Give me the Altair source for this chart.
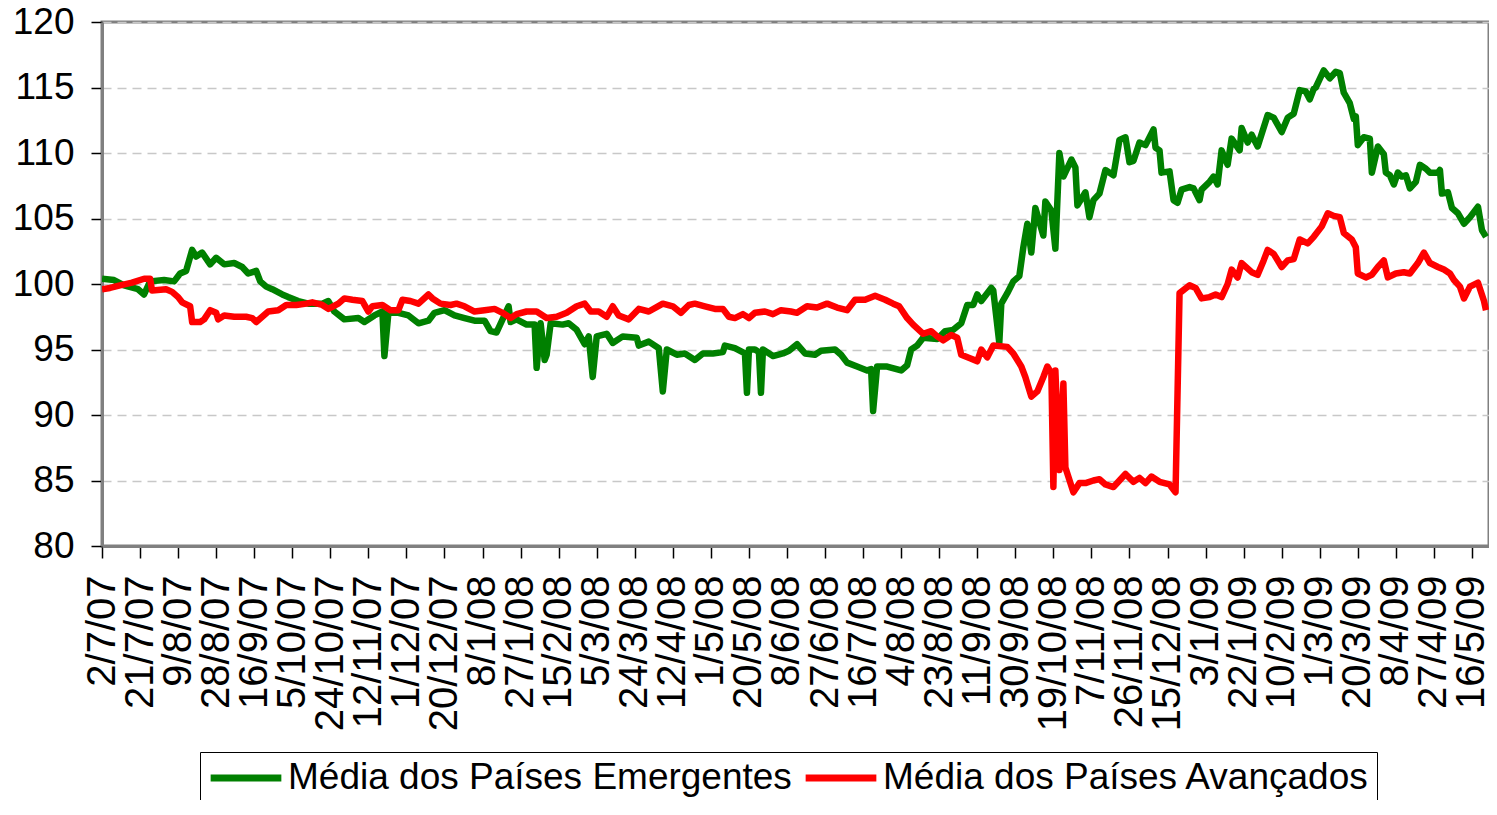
import altair as alt
import pandas as pd

FONT = "Liberation Sans, Arial, sans-serif"
EMERG = "Média dos Países Emergentes"
AVANC = "Média dos Países Avançados"

# x-axis tick labels (every 19 days)
x_ticks = ["2/7/07", "21/7/07", "9/8/07", "28/8/07", "16/9/07", "5/10/07", "24/10/07",
           "12/11/07", "1/12/07", "20/12/07", "8/1/08", "27/1/08", "15/2/08", "5/3/08",
           "24/3/08", "12/4/08", "1/5/08", "20/5/08", "8/6/08", "27/6/08", "16/7/08",
           "4/8/08", "23/8/08", "11/9/08", "30/9/08", "19/10/08", "7/11/08", "26/11/08",
           "15/12/08", "3/1/09", "22/1/09", "10/2/09", "1/3/09", "20/3/09", "8/4/09",
           "27/4/09", "16/5/09"]
y_ticks = [80, 85, 90, 95, 100, 105, 110, 115, 120]

# Emerging markets average
emerg_dates = [
    "2/7/07", "8/7/07", "13/7/07", "20/7/07", "23/7/07", "26/7/07",
    "2/8/07", "7/8/07", "10/8/07", "13/8/07", "16/8/07", "18/8/07", "21/8/07", "25/8/07", "28/8/07",
    "1/9/07", "6/9/07", "10/9/07", "13/9/07", "17/9/07", "19/9/07", "22/9/07", "25/9/07", "30/9/07",
    "3/10/07", "8/10/07", "13/10/07", "20/10/07", "23/10/07", "26/10/07", "31/10/07",
    "7/11/07", "10/11/07", "15/11/07", "19/11/07", "20/11/07", "22/11/07", "27/11/07",
    "2/12/07", "7/12/07", "12/12/07", "15/12/07", "20/12/07", "25/12/07", "30/12/07",
    "4/1/08", "9/1/08", "12/1/08", "15/1/08", "21/1/08", "22/1/08", "25/1/08", "30/1/08",
    "3/2/08", "4/2/08", "6/2/08", "8/2/08", "9/2/08", "11/2/08", "17/2/08", "20/2/08", "24/2/08", "28/2/08",
    "1/3/08", "3/3/08", "5/3/08", "10/3/08", "13/3/08", "18/3/08", "25/3/08", "26/3/08", "31/3/08",
    "5/4/08", "7/4/08", "9/4/08", "14/4/08", "18/4/08", "23/4/08", "27/4/08",
    "2/5/08", "7/5/08", "8/5/08", "13/5/08", "18/5/08", "19/5/08", "20/5/08", "23/5/08", "25/5/08", "26/5/08", "27/5/08",
    "1/6/08", "6/6/08", "9/6/08", "13/6/08", "17/6/08", "22/6/08", "25/6/08",
    "2/7/08", "5/7/08", "8/7/08", "13/7/08", "18/7/08", "20/7/08", "21/7/08", "23/7/08", "28/7/08",
    "4/8/08", "7/8/08", "9/8/08", "12/8/08", "15/8/08", "22/8/08", "26/8/08", "30/8/08",
    "3/9/08", "6/9/08", "9/9/08", "11/9/08", "13/9/08", "18/9/08", "19/9/08", "22/9/08", "23/9/08", "26/9/08", "29/9/08",
    "2/10/08", "4/10/08", "6/10/08", "8/10/08", "10/10/08", "14/10/08", "15/10/08", "18/10/08", "20/10/08", "22/10/08", "24/10/08", "28/10/08", "30/10/08", "31/10/08",
    "4/11/08", "6/11/08", "8/11/08", "11/11/08", "14/11/08", "18/11/08", "21/11/08", "24/11/08", "26/11/08", "28/11/08",
    "1/12/08", "4/12/08", "8/12/08", "9/12/08", "11/12/08", "12/12/08", "16/12/08", "18/12/08", "20/12/08", "22/12/08", "26/12/08", "28/12/08", "31/12/08",
    "1/1/09", "5/1/09", "7/1/09", "9/1/09", "11/1/09", "14/1/09", "16/1/09", "20/1/09", "21/1/09", "24/1/09", "26/1/09", "29/1/09",
    "3/2/09", "6/2/09", "10/2/09", "13/2/09", "16/2/09", "19/2/09", "22/2/09", "24/2/09", "26/2/09", "27/2/09",
    "3/3/09", "6/3/09", "9/3/09", "11/3/09", "13/3/09", "16/3/09", "18/3/09", "19/3/09", "20/3/09", "23/3/09", "26/3/09", "27/3/09", "30/3/09",
    "2/4/09", "3/4/09", "5/4/09", "7/4/09", "9/4/09", "11/4/09", "13/4/09", "15/4/09", "18/4/09", "20/4/09", "23/4/09", "25/4/09", "29/4/09", "30/4/09",
    "1/5/09", "4/5/09", "6/5/09", "9/5/09", "12/5/09", "15/5/09", "19/5/09", "21/5/09", "23/5/09",
]
emerg_values = [
    100.4, 100.3, 99.9, 99.6, 99.2, 100.2,
    100.3, 100.2, 100.8, 101.0, 102.6, 102.1, 102.4, 101.5, 102.0,
    101.5, 101.6, 101.3, 100.8, 101.0, 100.2, 99.8, 99.6, 99.2,
    99.0, 98.7, 98.5, 98.5, 98.7, 97.9, 97.3,
    97.4, 97.1, 97.6, 97.9, 94.5, 97.8, 97.8,
    97.6, 97.0, 97.2, 97.8, 98.0, 97.6, 97.4,
    97.2, 97.2, 96.4, 96.3, 98.3, 97.1, 97.3, 96.9,
    96.9, 93.6, 97.0, 94.2, 94.6, 97.0, 96.9, 97.0, 96.5, 95.4,
    96.0, 92.9, 96.0, 96.2, 95.5, 96.0, 95.9, 95.3, 95.6,
    95.1, 91.8, 95.0, 94.6, 94.7, 94.2, 94.7,
    94.7, 94.8, 95.3, 95.1, 94.7, 91.7, 95.0, 95.0, 94.8, 91.7, 95.0,
    94.5, 94.7, 94.9, 95.4, 94.7, 94.6, 94.9,
    95.0, 94.6, 94.0, 93.7, 93.4, 93.5, 90.3, 93.7, 93.7,
    93.4, 93.8, 95.0, 95.3, 95.9, 95.8, 96.4, 96.5,
    97.0, 98.4, 98.4, 99.2, 98.7, 99.7, 99.5, 95.5, 98.5, 99.3, 100.2,
    100.6, 102.8, 104.6, 102.4, 105.8, 103.7, 106.3, 105.6, 102.7, 110.0, 108.2, 109.5, 108.9, 106.0,
    107.0, 105.1, 106.4, 106.9, 108.7, 108.3, 111.0, 111.2, 109.3, 109.4,
    110.8, 110.6, 111.8, 110.4, 110.2, 108.5, 108.6, 106.4, 106.2, 107.2, 107.4, 107.3, 106.4,
    107.2, 107.8, 108.2, 107.6, 110.2, 109.1, 111.1, 110.2, 111.9, 110.8, 111.4, 110.5,
    112.9, 112.7, 111.6, 112.7, 113.0, 114.8, 114.7, 114.1, 114.9, 115.0,
    116.3, 115.7, 116.2, 116.1, 114.6, 113.8, 112.6, 112.8, 110.6, 111.2, 111.1, 108.5, 110.5,
    109.9, 108.5, 108.3, 107.6, 108.5, 108.2, 108.3, 107.3, 107.8, 109.1, 108.8, 108.5, 108.5, 108.7,
    106.9, 107.0, 105.8, 105.4, 104.6, 105.1, 105.9, 104.1, 103.6,
]

# Advanced markets average
avanc_dates = [
    "2/7/07", "6/7/07", "11/7/07", "17/7/07", "23/7/07", "26/7/07", "27/7/07",
    "3/8/07", "6/8/07", "9/8/07", "11/8/07", "15/8/07", "16/8/07", "20/8/07", "22/8/07", "25/8/07", "28/8/07", "29/8/07",
    "1/9/07", "6/9/07", "12/9/07", "15/9/07", "17/9/07", "20/9/07", "23/9/07", "28/9/07",
    "2/10/07", "7/10/07", "12/10/07", "15/10/07", "20/10/07", "23/10/07", "28/10/07", "31/10/07",
    "4/11/07", "9/11/07", "12/11/07", "14/11/07", "19/11/07", "23/11/07", "27/11/07", "29/11/07",
    "3/12/07", "7/12/07", "12/12/07", "14/12/07", "18/12/07", "23/12/07", "26/12/07", "30/12/07",
    "4/1/08", "9/1/08", "14/1/08", "18/1/08", "22/1/08", "25/1/08", "30/1/08",
    "4/2/08", "9/2/08", "14/2/08", "19/2/08", "24/2/08", "28/2/08",
    "2/3/08", "6/3/08", "10/3/08", "13/3/08", "16/3/08", "21/3/08", "26/3/08", "31/3/08",
    "7/4/08", "12/4/08", "16/4/08", "20/4/08", "23/4/08", "28/4/08",
    "3/5/08", "7/5/08", "10/5/08", "13/5/08", "17/5/08", "20/5/08", "23/5/08", "28/5/08",
    "1/6/08", "5/6/08", "10/6/08", "13/6/08", "18/6/08", "23/6/08", "28/6/08",
    "3/7/08", "8/7/08", "12/7/08", "17/7/08", "22/7/08", "27/7/08", "31/7/08",
    "3/8/08", "7/8/08", "10/8/08", "15/8/08", "19/8/08", "22/8/08", "25/8/08", "29/8/08",
    "1/9/08", "3/9/08", "8/9/08", "11/9/08", "13/9/08", "16/9/08", "19/9/08", "26/9/08", "29/9/08",
    "3/10/08", "5/10/08", "8/10/08", "11/10/08", "14/10/08", "16/10/08", "18/10/08", "19/10/08", "20/10/08", "22/10/08", "24/10/08", "25/10/08", "29/10/08",
    "1/11/08", "4/11/08", "8/11/08", "11/11/08", "14/11/08", "18/11/08", "21/11/08", "24/11/08", "28/11/08",
    "1/12/08", "4/12/08", "7/12/08", "11/12/08", "16/12/08", "19/12/08", "21/12/08", "26/12/08", "29/12/08",
    "1/1/09", "5/1/09", "8/1/09", "11/1/09", "14/1/09", "16/1/09", "19/1/09", "21/1/09", "26/1/09", "29/1/09",
    "1/2/09", "3/2/09", "6/2/09", "10/2/09", "13/2/09", "16/2/09", "19/2/09", "23/2/09", "26/2/09",
    "2/3/09", "5/3/09", "8/3/09", "11/3/09", "13/3/09", "17/3/09", "19/3/09", "20/3/09", "24/3/09", "27/3/09", "30/3/09",
    "2/4/09", "4/4/09", "8/4/09", "12/4/09", "15/4/09", "19/4/09", "22/4/09", "25/4/09", "29/4/09",
    "2/5/09", "5/5/09", "7/5/09", "10/5/09", "12/5/09", "15/5/09", "19/5/09", "22/5/09", "23/5/09",
]
avanc_values = [
    99.6, 99.7, 99.9, 100.1, 100.4, 100.4, 99.5,
    99.6, 99.4, 99.0, 98.6, 98.3, 97.1, 97.1, 97.3, 98.0, 97.8, 97.3,
    97.6, 97.5, 97.5, 97.4, 97.1, 97.5, 97.9, 98.0,
    98.4, 98.4, 98.5, 98.6, 98.4, 98.1, 98.5, 98.9,
    98.8, 98.7, 97.9, 98.3, 98.4, 98.0, 98.0, 98.8,
    98.7, 98.5, 99.2, 98.9, 98.5, 98.4, 98.5, 98.3,
    97.9, 98.0, 98.1, 97.8, 97.4, 97.7, 97.9,
    97.9, 97.4, 97.5, 97.8, 98.3, 98.5,
    97.9, 97.9, 97.5, 98.3, 97.6, 97.3, 98.1, 97.9,
    98.5, 98.3, 97.8, 98.4, 98.5, 98.3,
    98.1, 98.1, 97.5, 97.4, 97.7, 97.4, 97.8, 97.9,
    97.7, 98.0, 97.9, 97.8, 98.3, 98.2, 98.5,
    98.2, 98.0, 98.8, 98.8, 99.1, 98.8, 98.5,
    98.3, 97.4, 96.9, 96.2, 96.4, 96.0, 95.7, 96.1,
    95.9, 94.6, 94.3, 94.1, 95.0, 94.4, 95.3, 95.2, 94.7,
    93.7, 92.9, 91.4, 91.8, 92.9, 93.7, 93.2, 84.5, 93.4, 85.8, 92.4, 86.0, 84.1,
    84.8, 84.8, 85.0, 85.1, 84.7, 84.5, 85.0, 85.5, 84.9,
    85.2, 84.8, 85.3, 84.9, 84.7, 84.1, 99.3, 99.9, 99.7,
    98.9, 99.0, 99.2, 99.0, 100.0, 101.1, 100.5, 101.6, 100.9, 100.7,
    101.8, 102.6, 102.3, 101.3, 101.8, 101.9, 103.4, 103.1, 103.6,
    104.4, 105.4, 105.2, 105.1, 103.9, 103.4, 102.8, 100.8, 100.5, 100.7, 101.3,
    101.8, 100.5, 100.8, 100.9, 100.8, 101.6, 102.4, 101.6, 101.3,
    101.1, 100.8, 100.3, 99.8, 98.9, 99.8, 100.1, 98.7, 98.0,
]

df = pd.concat([
    pd.DataFrame({"data": pd.to_datetime(emerg_dates, format="%d/%m/%y"),
                  "valor": emerg_values, "serie": EMERG}),
    pd.DataFrame({"data": pd.to_datetime(avanc_dates, format="%d/%m/%y"),
                  "valor": avanc_values, "serie": AVANC}),
], ignore_index=True)

tick_dates = pd.to_datetime(x_ticks, format="%d/%m/%y")
tick_values = [alt.DateTime(year=int(d.year), month=int(d.month), date=int(d.day)) for d in tick_dates]

x_enc = alt.X(
    "data:T",
    scale=alt.Scale(domain=[alt.DateTime(year=2007, month=7, date=2),
                            alt.DateTime(year=2009, month=5, date=24, hours=12)]),
    axis=alt.Axis(values=tick_values, format="%-d/%-m/%y", labelAngle=270,
                  labelFontSize=40, labelFont=FONT, labelColor="black", labelPadding=17,
                  labelOverlap=False, labelFlush=False, labelBound=False,
                  tickSize=12, tickColor="black", tickWidth=1.5,
                  domainColor="#808080", domainWidth=3, grid=False, title=None),
)
y_enc = alt.Y(
    "valor:Q",
    scale=alt.Scale(domain=[80, 120], nice=False, zero=False),
    axis=alt.Axis(values=y_ticks, labelFontSize=37, labelFont=FONT, labelColor="black",
                  labelPadding=17, tickSize=11, tickColor="black", tickWidth=1.5,
                  domainColor="#808080", domainWidth=3, grid=True, gridDash=[9, 6],
                  gridColor="#c8c8c8", gridWidth=1.5, title=None),
)
color_enc = alt.Color(
    "serie:N",
    scale=alt.Scale(domain=[EMERG, AVANC], range=["#008000", "#ff0000"]),
    legend=alt.Legend(orient="none", legendX=98, legendY=730, direction="horizontal",
                      title=None, strokeColor="black", fillColor="white", padding=7,
                      symbolType="stroke", symbolSize=5000, symbolStrokeWidth=7,
                      clipHeight=38,
                      labelFontSize=37, labelFont=FONT, labelColor="black",
                      labelOffset=3, columnPadding=10, labelLimit=2000),
)

base = alt.Chart(df).mark_line(strokeWidth=6.5, strokeJoin="round", clip=True).encode(
    x=x_enc, y=y_enc, color=color_enc
)
green = base.transform_filter(alt.datum.serie == EMERG)
red = base.transform_filter(alt.datum.serie == AVANC)

chart = alt.layer(green, red).properties(
    width=1387, height=524,
    autosize=alt.AutoSizeParams(type="none"),
    padding={"left": 94, "top": 14, "right": 0, "bottom": 254},
    background="white",
).configure_view(stroke="#808080", strokeWidth=3)

chart.save("out.html", embed_options={"renderer": "svg", "actions": False})
